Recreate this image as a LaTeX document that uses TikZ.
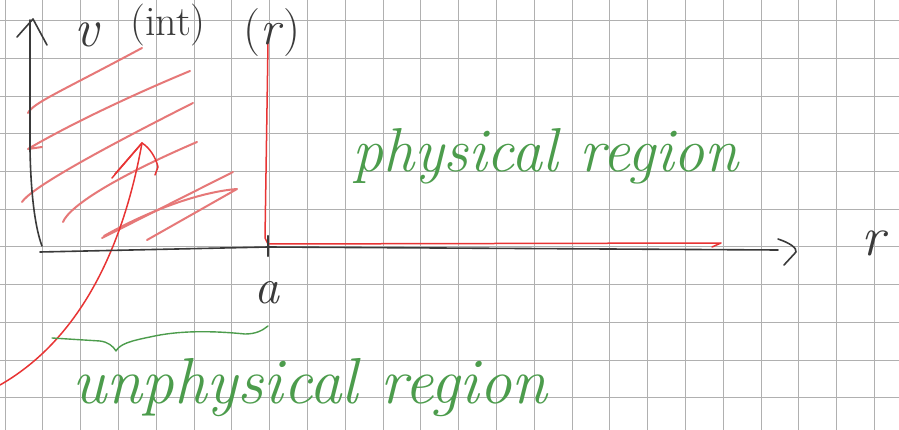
\documentclass[tikz,border=0pt]{standalone}
\usepackage{fontspec}
\definecolor{gridc}{RGB}{176,176,176}
\definecolor{inkc}{RGB}{58,58,58}
\definecolor{redc}{RGB}{232,52,52}
\definecolor{hatchc}{RGB}{230,120,120}
\definecolor{handgreen}{RGB}{76,156,76}
\begin{document}
\begin{tikzpicture}[x=1pt,y=-1pt,
  gridline/.style={draw=gridc, line width=1pt},
  ink/.style={draw=inkc, line width=1.6pt, line cap=round, line join=round},
  redink/.style={draw=redc, line width=1.5pt, line cap=round, line join=round},
  hatch/.style={draw=hatchc, line width=2pt, line cap=round, line join=round},
  greenink/.style={draw=handgreen, line width=1.4pt, line cap=round, line join=round},
  hand/.style={inner sep=0pt, outer sep=0pt}]
\useasboundingbox (0,0) rectangle (899,430);
\fill[white] (0,0) rectangle (899,430);
% grid paper
\foreach \k in {0,...,23} \draw[gridline] ({5+37.8*\k},0) -- ({5+37.8*\k},430);
\foreach \k in {0,...,10} \draw[gridline] (0,{20.7+37.7*\k}) -- (899,{20.7+37.7*\k});
% hatching of the unphysical region
\draw[hatch] (28,113) .. controls (33,103) and (60,92) .. (142,48);
\draw[hatch] (42,147) -- (28,149) .. controls (60,130) and (120,100) .. (190,71);
\draw[hatch] (22,202) .. controls (30,190) and (80,160) .. (193,103);
\draw[hatch] (63,222) .. controls (70,205) and (120,175) .. (197,142);
\draw[hatch] (102,238) -- (233,172);
\draw[hatch] (104,236) .. controls (150,210) and (200,192) .. (237,189) -- (147,240);
% red arrow from the brace
\draw[redink] (0,385) .. controls (70,345) and (120,265) .. (142,143);
\draw[redink] (112,178) -- (142,143) .. controls (150,148) and (156,158) .. (158,167) -- (155,175);
\draw[redink] (142,143) -- (115,174);
% red step potential
\draw[redink] (268,43) -- (265,238) -- (268,244) -- (721,243) -- (712,247);
% axes
\draw[ink] (30,20) -- (30,150) .. controls (31,200) and (36,230) .. (42,246);
\draw[ink] (17,37) -- (33,19) -- (47,45);
\draw[ink] (40,252) -- (268,247) -- (778,250);
\draw[ink] (778,239) .. controls (790,243) and (797,248) .. (796,252) -- (784,265);
\draw[ink, line width=2.2pt] (268,236) -- (268,256);
% brace
\draw[greenink] (52,338) -- (100,341) .. controls (108,342) and (113,346) .. (116,351)
  .. controls (120,344) and (130,341) .. (150,337) .. controls (180,330) and (215,331) .. (245,334)
  .. controls (255,334) and (262,331) .. (268,326);
% labels
\node[hand, text=inkc, anchor=base] (lv) at (87,47) {\fontsize{54}{54}\selectfont\itshape v};
\node[hand, text=inkc, anchor=base] (lint) at (168,36) {\fontsize{42}{42}\selectfont (int)};
\node[hand, text=inkc, anchor=base] (lr) at (272,45) {\fontsize{48}{48}\selectfont (\textit{r})};
\node[hand, text=inkc, anchor=base] (la) at (267,303) {\fontsize{50}{50}\selectfont\itshape a};
\node[hand, text=inkc, anchor=base] (lx) at (873,256) {\fontsize{56}{56}\selectfont\itshape r};
\node[hand, text=handgreen, anchor=base west] (lphys) at (352,172) {\fontsize{62}{62}\selectfont\itshape physical region};
\node[hand, text=handgreen, anchor=base west] (lunphys) at (72,403) {\fontsize{65}{65}\selectfont\itshape unphysical region};
\end{tikzpicture}
\end{document}
